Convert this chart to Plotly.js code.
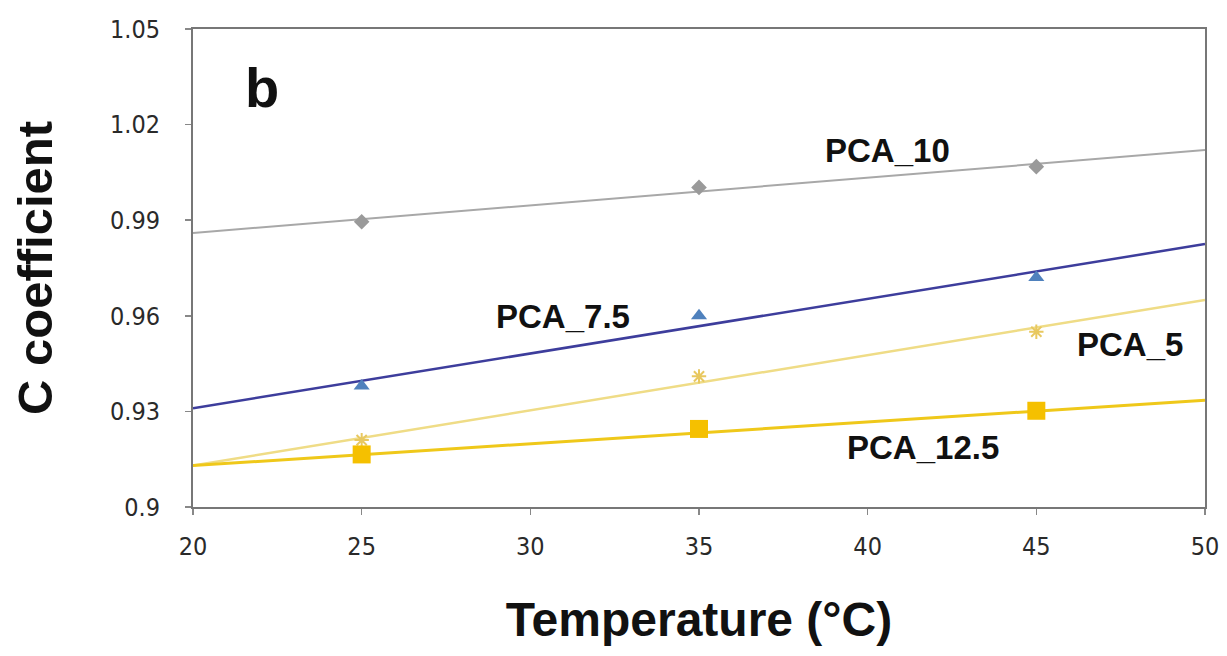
<!DOCTYPE html>
<html><head><meta charset="utf-8">
<script src="https://cdn.plot.ly/plotly-3.0.1.min.js"></script>
<style>html,body{margin:0;padding:0;background:#fff}#chart{width:1227px;height:656px}</style>
</head><body><div id="chart"></div>
<script>
// Measured data (temperature in °C, C coefficient)
const temps = [25, 35, 45];
const pca10 = [0.9895, 1.0003, 1.0068];
const pca75 = [0.938, 0.960, 0.972];
const pca5 = [0.921, 0.941, 0.955];
const pca125 = [0.9165, 0.9245, 0.9302];
// Trendline end values at x = 20 and x = 50
const trendX = [20, 50];
const trend10 = [0.986, 1.012];
const trend75 = [0.931, 0.9825];
const trend5 = [0.913, 0.965];
const trend125 = [0.913, 0.9335];
const xTicks = [20, 25, 30, 35, 40, 45, 50];
const yTicks = [0.9, 0.93, 0.96, 0.99, 1.02, 1.05];
const yTickText = ['0.9', '0.93', '0.96', '0.99', '1.02', '1.05'];

const traces = [
  {x: trendX, y: trend10, mode: 'lines', line: {color: '#a8a8a8', width: 2}},
  {x: trendX, y: trend5, mode: 'lines', line: {color: '#efdc86', width: 2.5}},
  {x: trendX, y: trend125, mode: 'lines', line: {color: '#efc81a', width: 3}},
  {x: trendX, y: trend75, mode: 'lines', line: {color: '#3d3d9c', width: 2.5}},
  {x: temps, y: pca10, mode: 'markers', marker: {symbol: 'diamond', size: 12, color: '#9a9a9a'}},
  {x: temps, y: pca75, mode: 'markers', marker: {symbol: 'triangle-up', size: 14, color: '#4f81bd'}},
  {x: temps, y: pca5, mode: 'markers', marker: {symbol: 'asterisk-open', size: 12, color: '#e8c860', line: {color: '#e8c860', width: 2}}},
  {x: temps, y: pca125, mode: 'markers', marker: {symbol: 'square', size: 18, color: '#f5c000'}}
];

const lblFont = {family: 'Liberation Sans, Arial, sans-serif', size: 33, color: '#111'};
const tickFont = {family: 'DejaVu Sans Condensed, sans-serif', size: 25, color: '#2a2a2a'};
const layout = {
  width: 1227, height: 656,
  margin: {l: 193, r: 22, t: 29, b: 149},
  paper_bgcolor: '#fff', plot_bgcolor: '#fff',
  showlegend: false,
  xaxis: {
    range: [20, 50], tickvals: xTicks, ticks: 'outside', ticklen: 6, tickcolor: '#888', tickwidth: 1.5,
    ticklabelstandoff: 10,
    showgrid: false, zeroline: false, showline: true, linecolor: '#777', linewidth: 2, mirror: true,
    tickfont: tickFont,
    title: {text: '<b>Temperature (°C)</b>', font: {family: 'Liberation Sans, Arial, sans-serif', size: 48, color: '#111'}, standoff: 42}
  },
  yaxis: {
    range: [0.9, 1.05], tickvals: yTicks, ticktext: yTickText, ticks: 'outside', ticklen: 6, tickcolor: '#888', tickwidth: 1.5,
    ticklabelstandoff: 20,
    showgrid: false, zeroline: false, showline: true, linecolor: '#777', linewidth: 2, mirror: true,
    tickfont: tickFont,
    title: {text: '<b>C coefficient</b>', font: {family: 'Liberation Sans, Arial, sans-serif', size: 49, color: '#111'}, standoff: 42}
  },
  annotations: [
    {x: 22.05, y: 1.0318, xref: 'x', yref: 'y', text: '<b>b</b>', showarrow: false, font: {family: 'Liberation Sans, Arial, sans-serif', size: 56, color: '#111'}},
    {x: 40.58, y: 1.012, xref: 'x', yref: 'y', text: '<b>PCA_10</b>', showarrow: false, font: lblFont},
    {x: 30.97, y: 0.9598, xref: 'x', yref: 'y', text: '<b>PCA_7.5</b>', showarrow: false, font: lblFont},
    {x: 47.78, y: 0.951, xref: 'x', yref: 'y', text: '<b>PCA_5</b>', showarrow: false, font: lblFont},
    {x: 41.64, y: 0.9187, xref: 'x', yref: 'y', text: '<b>PCA_12.5</b>', showarrow: false, font: lblFont}
  ]
};
Plotly.newPlot('chart', traces, layout, {displayModeBar: false, staticPlot: true});
</script></body></html>
